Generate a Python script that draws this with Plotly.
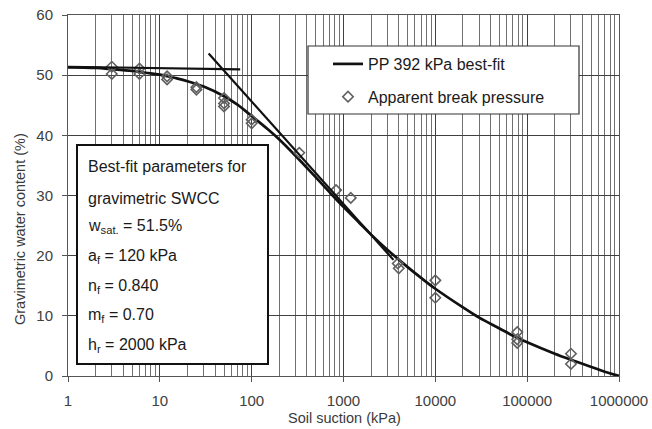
import plotly.graph_objects as go

# ---------------- data ----------------
suction_fit = [1, 2, 3, 5, 7, 10, 15, 20, 30, 50, 70, 100, 150, 200, 300, 500, 700,
               1000, 1500, 2000, 3000, 5000, 7000, 10000, 20000, 30000, 50000, 70000,
               100000, 200000, 300000, 500000, 700000, 1000000]
wc_fit = [51.3, 51.2, 51.0, 50.7, 50.4, 50.1, 49.5, 49.0, 48.1, 46.5, 45.1, 43.2, 41.0,
          39.3, 36.6, 33.0, 30.6, 28.1, 25.4, 23.5, 21.0, 18.1, 16.3, 14.5, 11.4, 9.7,
          7.9, 6.7, 5.6, 3.7, 2.7, 1.5, 0.7, 0.0]

suction_pts = [3, 3, 6, 6, 12, 12, 25, 25, 50, 50, 50, 100, 100, 330, 830, 1200,
               3900, 4000, 10000, 10000, 78000, 78000, 78000, 300000, 300000]
wc_pts = [51.4, 50.2, 51.1, 50.2, 49.8, 49.3, 48.0, 47.6, 46.2, 45.3, 44.8, 42.6, 42.0,
          37.1, 30.9, 29.6, 18.7, 17.9, 15.9, 13.0, 7.3, 6.1, 5.5, 3.7, 2.0]

tangent_flat_x = [1, 75]
tangent_flat_y = [51.4, 50.95]
tangent_steep_x = [34, 3500]
tangent_steep_y = [53.6, 19.3]

x_tickvals = [1, 10, 100, 1000, 10000, 100000, 1000000]
x_ticktext = ["1", "10", "100", "1000", "10000", "100000", "1000000"]
y_tickvals = [0, 10, 20, 30, 40, 50, 60]

param_lines = [
    "Best-fit parameters for",
    "gravimetric SWCC",
    "w<sub>sat.</sub> = 51.5%",
    "a<sub>f</sub> = 120 kPa",
    "n<sub>f</sub> = 0.840",
    "m<sub>f</sub> = 0.70",
    "h<sub>r</sub> = 2000 kPa",
]

FONT = "Liberation Sans, Arial, sans-serif"

fig = go.Figure()

fig.add_trace(go.Scatter(
    x=suction_fit, y=wc_fit, mode="lines", name="PP 392 kPa best-fit",
    line=dict(color="#111111", width=2.7, shape="spline"),
    legendgroup="a",
))
fig.add_trace(go.Scatter(
    x=suction_pts, y=wc_pts, mode="markers", name="Apparent break pressure",
    marker=dict(symbol="diamond-open", size=8, color="#606060", line=dict(width=1.6)),
    legendgroup="b",
))
fig.add_trace(go.Scatter(
    x=tangent_flat_x, y=tangent_flat_y, mode="lines", showlegend=False,
    line=dict(color="#111111", width=2.2),
))
fig.add_trace(go.Scatter(
    x=tangent_steep_x, y=tangent_steep_y, mode="lines", showlegend=False,
    line=dict(color="#111111", width=2.2),
))

L, R, T, B = 68, 33, 15, 53
W, H = 652, 429
pw, ph = W - L - R, H - T - B

def px(xp):
    return (xp - L) / pw

def py(yp):
    return (H - B - yp) / ph

shapes = [
    # legend box
    dict(type="rect", xref="paper", yref="paper",
         x0=px(308), x1=px(579), y0=py(114), y1=py(46),
         line=dict(color="#333333", width=1.2), fillcolor="white", layer="above"),
    # parameter box
    dict(type="rect", xref="paper", yref="paper",
         x0=px(77), x1=px(268), y0=py(364), y1=py(145),
         line=dict(color="#111111", width=2), fillcolor="white", layer="above"),
]

line_y = [166.7, 198, 226.7, 256.7, 286.7, 315, 345]
annotations = []
for txt, yy in zip(param_lines, line_y):
    annotations.append(dict(
        text=txt, xref="paper", yref="paper", x=px(86), y=py(yy),
        xanchor="left", yanchor="middle", showarrow=False,
        font=dict(family=FONT, size=16, color="#1a1a1a"),
    ))
annotations.append(dict(
    text="Gravimetric water content (%)", xref="paper", yref="paper",
    x=px(20), y=py(229), textangle=-90, showarrow=False,
    xanchor="center", yanchor="middle",
    font=dict(family=FONT, size=14.5, color="#3a3a3a"),
))
annotations.append(dict(
    text="Soil suction (kPa)", xref="paper", yref="paper",
    x=px(344), y=py(418), showarrow=False,
    xanchor="center", yanchor="middle",
    font=dict(family=FONT, size=14.5, color="#3a3a3a"),
))

fig.update_layout(
    width=W, height=H,
    margin=dict(l=L, r=R, t=T, b=B, autoexpand=False),
    paper_bgcolor="white", plot_bgcolor="white",
    font=dict(family=FONT, color="#3a3a3a"),
    shapes=shapes,
    annotations=annotations,
    showlegend=True,
    legend=dict(
        x=px(328), y=py(47), xanchor="left", yanchor="top",
        bgcolor="rgba(0,0,0,0)", borderwidth=0,
        font=dict(family=FONT, size=16, color="#1a1a1a"),
        tracegroupgap=9, itemwidth=30,
    ),
)

fig.update_xaxes(
    type="log", range=[0, 6], automargin=False,
    tickmode="array", tickvals=x_tickvals, ticktext=x_ticktext,
    showgrid=True, gridcolor="#404040", gridwidth=1,
    minor=dict(dtick="D1", showgrid=True, gridcolor="#707070", gridwidth=1),
    ticks="outside", ticklen=5, tickcolor="#555555",
    showline=True, linecolor="#555555", linewidth=1, mirror=True,
    tickfont=dict(family=FONT, size=15, color="#404040"),
    ticklabelstandoff=6,
    zeroline=False,
)
fig.update_yaxes(
    range=[0, 60], tickmode="array", tickvals=y_tickvals, automargin=False,
    showgrid=True, gridcolor="#404040", gridwidth=1,
    ticks="outside", ticklen=5, tickcolor="#555555",
    showline=True, linecolor="#555555", linewidth=1, mirror=True,
    tickfont=dict(family=FONT, size=15, color="#404040"),
    ticklabelstandoff=6,
    zeroline=False,
)

fig.write_html("out.html", config={"displayModeBar": False},
               post_script="document.body.style.margin='0px';")
